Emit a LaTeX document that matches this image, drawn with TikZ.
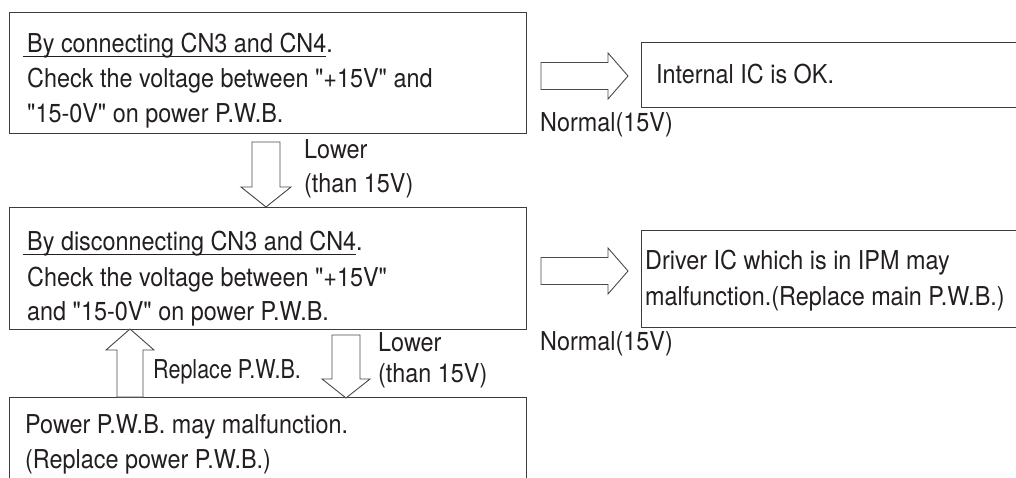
\documentclass[tikz,border=0pt]{standalone}
\usepackage{fontspec}
\newfontfamily\hv{TeX Gyre Heros}[FakeStretch=0.9]
\definecolor{boxc}{HTML}{3C3C3C}
\definecolor{arrc}{HTML}{4A4A4A}
\definecolor{txtc}{HTML}{231F20}
\newcommand\fs{\hv\fontsize{26}{34}\selectfont}
\newcommand\myul[1]{\setbox0\hbox{#1}\rlap{\kern-4pt\rule[-4pt]{\dimexpr\wd0+4pt\relax}{1.1pt}}\box0}
\begin{document}
\begin{tikzpicture}[x=1pt,y=-1pt,
  box/.style={draw=boxc, line width=1.2pt, inner sep=0pt, anchor=north west},
  txt/.style={anchor=base west, inner sep=0pt, font=\fs, text=txtc},
  barrow/.style={draw=arrc, line width=0.9pt, fill=white, line join=miter}]
\useasboundingbox (0,0) rectangle (1016,478);
\clip (0,0) rectangle (1016,478);
% boxes
\node[box, minimum width=517pt, minimum height=121pt] (b1) at (9,12) {};
\node[box, minimum width=400pt, minimum height=65pt] (b2) at (641,42) {};
\node[box, minimum width=517pt, minimum height=122pt] (b3) at (9,207) {};
\node[box, minimum width=400pt, minimum height=97pt] (b4) at (641,230) {};
\node[box, minimum width=517pt, minimum height=120pt] (b5) at (9,397) {};
% texts
\node[txt] (t11) at (27,53) {\myul{By connecting CN3 and CN4}.};
\node[txt] (t12) at (27,88) {Check the voltage between "+15V" and};
\node[txt] (t13) at (27,123) {"15-0V" on power P.W.B.};
\node[txt] (t2) at (656,84) {Internal IC is OK.};
\node[txt] (n1) at (540,132) {Normal(15V)};
\node[txt] (l11) at (304,159) {Lower};
\node[txt] (l12) at (304,193) {(than 15V)};
\node[txt] (t31) at (27,251) {\myul{By disconnecting CN3 and CN4}.};
\node[txt] (t32) at (27,286) {Check the voltage between "+15V"};
\node[txt] (t33) at (27,320) {and "15-0V" on power P.W.B.};
\node[txt] (t41) at (645,269) {Driver IC which is in IPM may};
\node[txt] (t42) at (645,305) {malfunction.(Replace main P.W.B.)};
\node[txt] (n2) at (540,350) {Normal(15V)};
\node[txt] (r1) at (153,378) {\scalebox{0.92}[1]{Replace P.W.B.}};
\node[txt] (l21) at (378,351) {Lower};
\node[txt] (l22) at (378,382) {(than 15V)};
\node[txt] (t51) at (25,433) {Power P.W.B. may malfunction.};
\node[txt] (t52) at (25,468) {(Replace power P.W.B.)};
% block arrows
\draw[barrow] (541,62.5) -- (608,62.5) -- (608,53) -- (628,76) -- (608,99) -- (608,89.5) -- (541,89.5) -- cycle;
\draw[barrow] (541,257.5) -- (608,257.5) -- (608,248) -- (628,271) -- (608,294) -- (608,284.5) -- (541,284.5) -- cycle;
\draw[barrow] (252,142) -- (280,142) -- (280,187) -- (291,187) -- (266,207) -- (241,187) -- (252,187) -- cycle;
\draw[barrow] (117,397) -- (117,350) -- (106,350) -- (130,329) -- (154,350) -- (143,350) -- (143,397) -- cycle;
\draw[barrow] (332,335) -- (360,335) -- (360,379) -- (370,379) -- (346,398) -- (322,379) -- (332,379) -- cycle;
\end{tikzpicture}
\end{document}
